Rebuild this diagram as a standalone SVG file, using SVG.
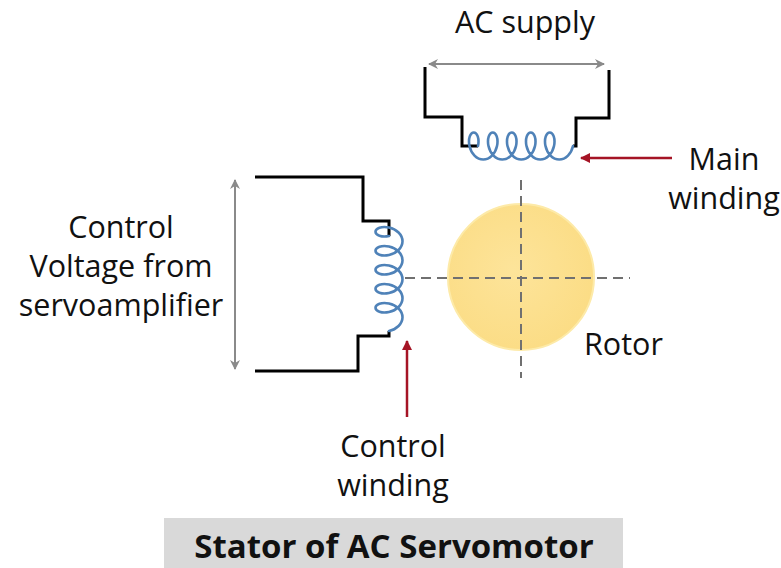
<svg xmlns="http://www.w3.org/2000/svg" width="781" height="568" viewBox="0 0 781 568">
  <style>
    .lbl { font-family: "Open Sans", "Noto Sans", "Liberation Sans", sans-serif; font-size: 30.5px; fill: #111; }
    .ttl { font-family: "Open Sans", "Noto Sans", "Liberation Sans", sans-serif; font-size: 33px; font-weight: bold; fill: #111; }
    .wire { fill: none; stroke: #000; stroke-width: 3; stroke-linejoin: miter; }
    .coil { fill: none; stroke: #4f82b8; stroke-width: 2.6; stroke-linejoin: round; stroke-linecap: round; }
    .axis { fill: none; stroke: #707070; stroke-width: 2; stroke-dasharray: 10 6; }
    .span { fill: none; stroke: #8a8a8a; stroke-width: 2; }
    .ptr { fill: none; stroke: #a51425; stroke-width: 2.5; }
  </style>
  <defs>
    <marker id="grayHead" viewBox="0 0 10 10" refX="9" refY="5" markerWidth="5" markerHeight="5" orient="auto-start-reverse" markerUnits="strokeWidth">
      <path d="M0,0 L10,5 L0,10 L3,5 z" fill="#8a8a8a"/>
    </marker>
    <marker id="redHead" viewBox="0 0 10 10" refX="9" refY="5" markerWidth="4" markerHeight="4" orient="auto" markerUnits="strokeWidth">
      <path d="M0,0 L10,5 L0,10 z" fill="#a51425"/>
    </marker>
    <radialGradient id="rotorFill" cx="0.45" cy="0.45" r="0.6">
      <stop offset="0" stop-color="#fde49a"/>
      <stop offset="1" stop-color="#fbdc84"/>
    </radialGradient>
  </defs>

  <rect width="781" height="568" fill="#fff"/>

  <!-- main winding: supply leads and horizontal coil -->
  <g id="main-winding">
    <path class="wire" d="M425,67 V117 H462 V146 H478"/>
    <path class="wire" d="M609,70 V118 H576 V146 H573"/>
    <path class="coil" d="M478,146
      c1.58,-7.46 -0.86,-13.5 -4.25,-13.5 c-3.39,0 -5.83,6.04 -4.25,13.5 c1.58,7.46 7.2,13.5 13.75,13.5 c6.55,0 12.17,-6.04 13.75,-13.5
      c1.58,-7.46 -0.86,-13.5 -4.25,-13.5 c-3.39,0 -5.83,6.04 -4.25,13.5 c1.58,7.46 7.2,13.5 13.75,13.5 c6.55,0 12.17,-6.04 13.75,-13.5
      c1.58,-7.46 -0.86,-13.5 -4.25,-13.5 c-3.39,0 -5.83,6.04 -4.25,13.5 c1.58,7.46 7.2,13.5 13.75,13.5 c6.55,0 12.17,-6.04 13.75,-13.5
      c1.58,-7.46 -0.86,-13.5 -4.25,-13.5 c-3.39,0 -5.83,6.04 -4.25,13.5 c1.58,7.46 7.2,13.5 13.75,13.5 c6.55,0 12.17,-6.04 13.75,-13.5
      c1.58,-7.46 -0.86,-13.5 -4.25,-13.5 c-3.39,0 -5.83,6.04 -4.25,13.5 c1.58,7.46 7.2,13.5 13.75,13.5 c6.55,0 12.17,-6.04 13.75,-13.5"/>
  </g>

  <!-- control winding: amplifier leads and vertical coil -->
  <g id="control-winding">
    <path class="wire" d="M255,177 H363 V221 H389 V236"/>
    <path class="wire" d="M255,371 H358 V336 H389 V331"/>
    <path class="coil" d="M389,236
      c-7.46,1.58 -13.5,-0.86 -13.5,-4.25 c0,-3.39 6.04,-5.83 13.5,-4.25 c7.46,1.58 13.5,7.2 13.5,13.75 c0,6.55 -6.04,12.17 -13.5,13.75
      c-7.46,1.58 -13.5,-0.86 -13.5,-4.25 c0,-3.39 6.04,-5.83 13.5,-4.25 c7.46,1.58 13.5,7.2 13.5,13.75 c0,6.55 -6.04,12.17 -13.5,13.75
      c-7.46,1.58 -13.5,-0.86 -13.5,-4.25 c0,-3.39 6.04,-5.83 13.5,-4.25 c7.46,1.58 13.5,7.2 13.5,13.75 c0,6.55 -6.04,12.17 -13.5,13.75
      c-7.46,1.58 -13.5,-0.86 -13.5,-4.25 c0,-3.39 6.04,-5.83 13.5,-4.25 c7.46,1.58 13.5,7.2 13.5,13.75 c0,6.55 -6.04,12.17 -13.5,13.75
      c-7.46,1.58 -13.5,-0.86 -13.5,-4.25 c0,-3.39 6.04,-5.83 13.5,-4.25 c7.46,1.58 13.5,7.2 13.5,13.75 c0,6.55 -6.04,12.17 -13.5,13.75"/>
  </g>

  <!-- rotor -->
  <g id="rotor">
    <circle cx="521" cy="277" r="73" fill="url(#rotorFill)" stroke="#fdeaa8" stroke-width="2"/>
  </g>

  <!-- connectors: axes, span arrows, pointers -->
  <g id="connectors">
    <path class="axis" d="M521,180 V378"/>
    <path class="axis" d="M405,278 H630"/>
    <path class="span" d="M429,64 H604" marker-start="url(#grayHead)" marker-end="url(#grayHead)"/>
    <path class="span" d="M235,180 V369" marker-start="url(#grayHead)" marker-end="url(#grayHead)"/>
    <path class="ptr" d="M672,158 H581" marker-end="url(#redHead)"/>
    <path class="ptr" d="M407,417 V341" marker-end="url(#redHead)"/>
  </g>

  <!-- labels -->
  <g id="labels">
    <text class="lbl" x="525" y="33" text-anchor="middle">AC supply</text>
    <text class="lbl" x="724" y="170" text-anchor="middle">Main</text>
    <text class="lbl" x="724" y="209" text-anchor="middle">winding</text>
    <text class="lbl" x="121" y="238" text-anchor="middle">Control</text>
    <text class="lbl" x="121" y="277" text-anchor="middle">Voltage from</text>
    <text class="lbl" x="121" y="316" text-anchor="middle">servoamplifier</text>
    <text class="lbl" x="584" y="355">Rotor</text>
    <text class="lbl" x="393" y="457" text-anchor="middle">Control</text>
    <text class="lbl" x="393" y="496" text-anchor="middle">winding</text>
  </g>

  <!-- caption -->
  <g id="caption">
    <rect x="164" y="518" width="459" height="50" fill="#d9d9d9"/>
    <text class="ttl" x="394" y="558" text-anchor="middle">Stator of AC Servomotor</text>
  </g>
</svg>
